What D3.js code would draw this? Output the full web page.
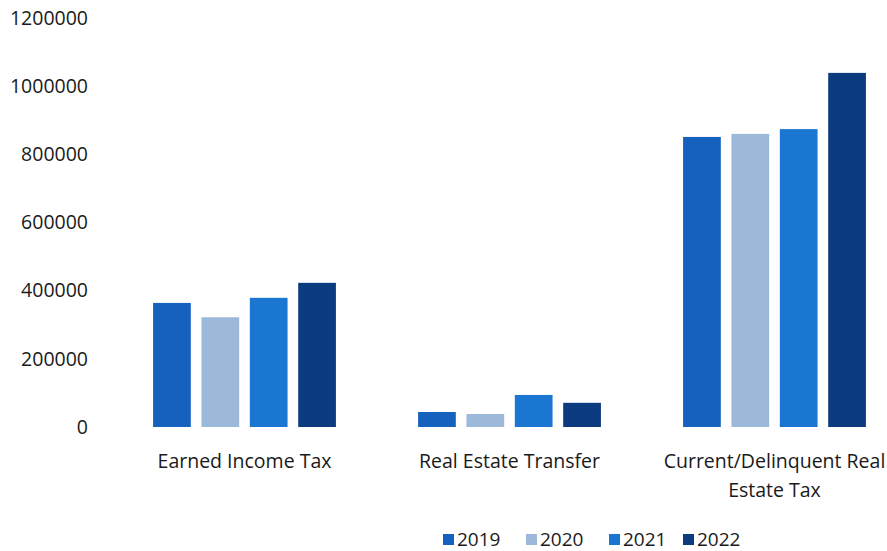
<!DOCTYPE html>
<html>
<head>
<meta charset="utf-8">
<script src="https://cdn.jsdelivr.net/npm/d3@7"></script>
<style>
  body { margin: 0; background: #fff; }
  text { font-family: "Open Sans", "Noto Sans", sans-serif; fill: #1a1a1a; }
</style>
</head>
<body>
<svg id="chart" width="887" height="551"></svg>
<script>
"use strict";

// values
var categories = ["Earned Income Tax", "Real Estate Transfer", "Current/Delinquent Real Estate Tax"];
var years = ["2019", "2020", "2021", "2022"];
var v2019 = [364000, 44000, 851000];
var v2020 = [322000, 38000, 860000];
var v2021 = [379000, 94000, 874000];
var v2022 = [423000, 71000, 1039000];
var yTicks = [0, 200000, 400000, 600000, 800000, 1000000, 1200000];
var colors = ["#1661bd", "#9db9da", "#1a76d0", "#0d3b80"];

var series = [v2019, v2020, v2021, v2022];

var svg = d3.select("#chart");

var x = d3.scaleBand()
    .domain(categories)
    .range([112, 907])
    .paddingInner(0.31)
    .paddingOuter(0.155);

var xi = d3.scaleBand()
    .domain(years)
    .range([0, x.bandwidth()])
    .paddingInner(0.22);

var y = d3.scaleLinear()
    .domain([0, 1200000])
    .range([427, 18]);

// y axis labels only, plain integers
var yAxis = d3.axisLeft(y).tickValues(yTicks).tickFormat(d3.format("d")).tickSize(0).tickPadding(0);
var ga = svg.append("g").attr("transform", "translate(88,0)").call(yAxis);
ga.select(".domain").remove();
ga.selectAll("text")
    .style("font-family", "'Open Sans', sans-serif")
    .style("font-size", "19.5px")
    .attr("fill", "#1a1a1a");

// bars
var groups = svg.selectAll("g.cat").data(categories)
  .enter().append("g")
    .attr("class", "cat")
    .attr("transform", d => "translate(" + x(d) + ",0)");

groups.selectAll("rect")
  .data((d, i) => years.map((yr, j) => ({ year: yr, value: series[j][i], idx: j })))
  .enter().append("rect")
    .attr("x", d => xi(d.year))
    .attr("width", xi.bandwidth())
    .attr("y", d => y(d.value))
    .attr("height", d => y(0) - y(d.value))
    .attr("fill", d => colors[d.idx]);

// category labels, the long one wraps onto two lines
var labelLines = [["Earned Income Tax"], ["Real Estate Transfer"], ["Current/Delinquent Real", "Estate Tax"]];
svg.selectAll("text.cat").data(categories)
  .enter().append("text")
    .attr("class", "cat")
    .attr("text-anchor", "middle")
    .attr("y", 468)
    .style("font-size", "19.5px")
    .each(function(d, i) {
      var t = d3.select(this);
      labelLines[i].forEach((ln, k) => {
        t.append("tspan")
          .attr("x", x(d) + x.bandwidth() / 2)
          .attr("dy", k === 0 ? 0 : 29)
          .text(ln);
      });
    });

// legend
var legendX = [457, 540, 623, 697];
var lg = svg.selectAll("g.leg").data(years)
  .enter().append("g")
    .attr("class", "leg")
    .attr("transform", (d, i) => "translate(" + legendX[i] + ",539)");
lg.append("rect")
    .attr("x", -14).attr("y", -5)
    .attr("width", 11).attr("height", 11)
    .attr("fill", (d, i) => colors[i]);
lg.append("text")
    .attr("x", 0)
    .attr("dy", "0.35em")
    .style("font-size", "19px")
    .text(d => d);
</script>
</body>
</html>
